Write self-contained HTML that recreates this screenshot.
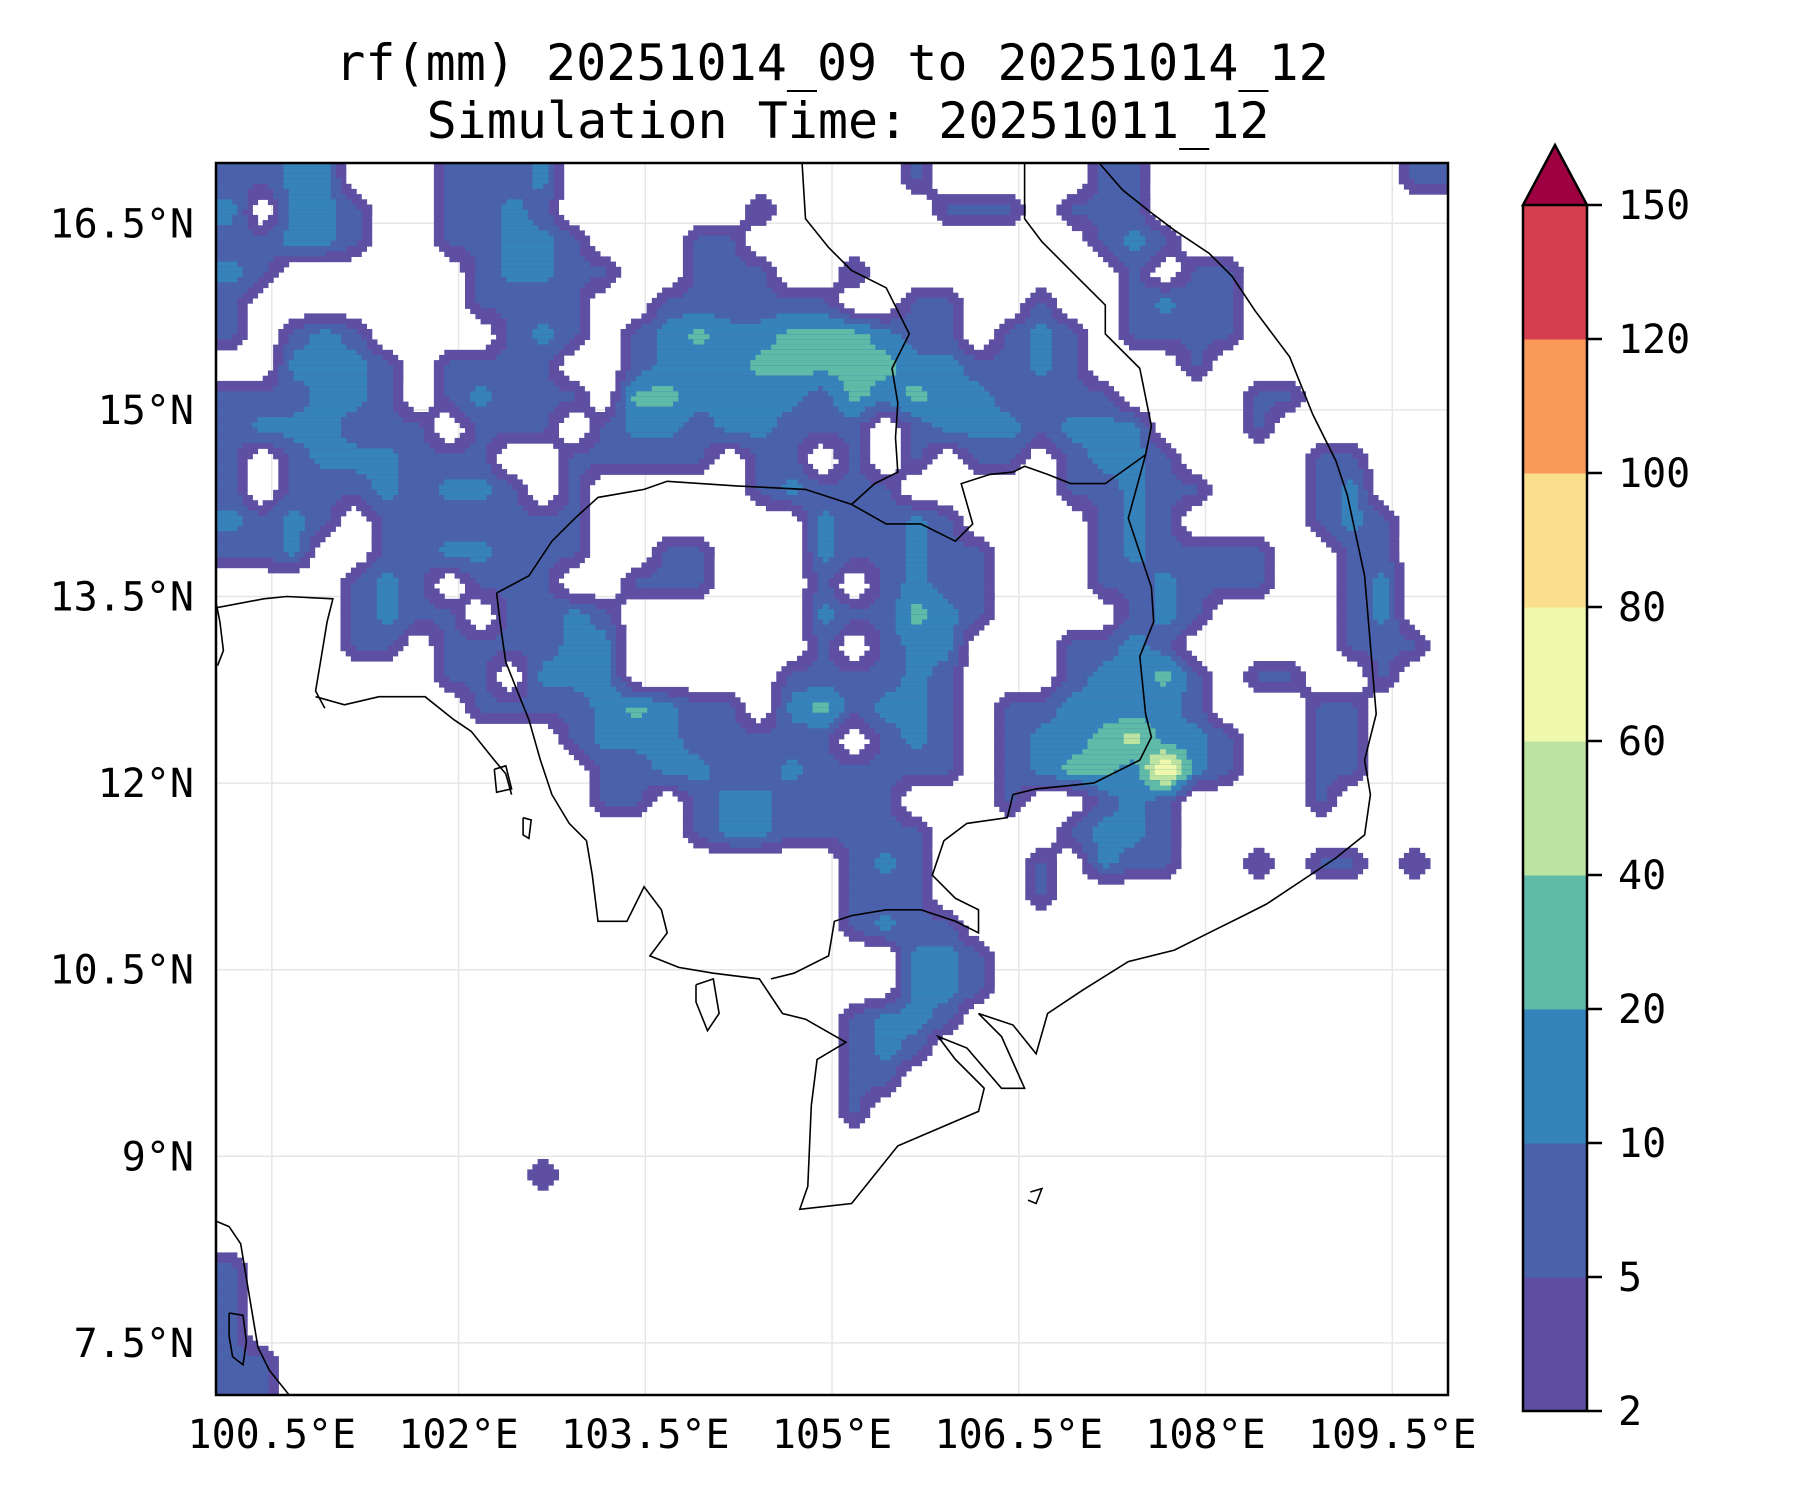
<!DOCTYPE html>
<html><head><meta charset="utf-8">
<style>
html,body{margin:0;padding:0;background:#fff;}
svg{display:block;}
text{font-family:"DejaVu Sans Mono","Liberation Mono",monospace;fill:#000;}
</style></head>
<body>
<svg id="fig" width="1800" height="1500" viewBox="0 0 1800 1500" xmlns="http://www.w3.org/2000/svg">
  <rect width="1800" height="1500" fill="#fff"/>
  <text x="832" y="80" font-size="50" text-anchor="middle">rf(mm) 20251014_09 to 20251014_12</text>
  <text x="848" y="138" font-size="50" text-anchor="middle">Simulation Time: 20251011_12</text>
  <defs><clipPath id="mapclip"><rect x="216" y="163" width="1232" height="1232"/></clipPath></defs>
  <g id="grid"></g>
  <g id="rain" clip-path="url(#mapclip)"></g>
  <g id="coast" clip-path="url(#mapclip)" fill="none" stroke="#000" stroke-width="1.6"></g>
  <rect x="216" y="163" width="1232" height="1232" fill="none" stroke="#000" stroke-width="2.5"/>
  <g id="xlabels"></g>
  <g id="ylabels"></g>
  <g id="cbar"></g>
</svg>
<script>
const lonTicks=[100.5,102,103.5,105,106.5,108,109.5];
const lonTickLabels=["100.5°E","102°E","103.5°E","105°E","106.5°E","108°E","109.5°E"];
const latTicks=[16.5,15,13.5,12,10.5,9,7.5];
const latTickLabels=["16.5°N","15°N","13.5°N","12°N","10.5°N","9°N","7.5°N"];
const levelBounds=[2,5,10,20,40,60,80,100,120,150];
const levelColors=["#5e4fa2","#4a61ab","#3682ba","#5fbaa8","#bce4a0","#f0f8ae","#fbdf8d","#f99a58","#d53e4f"];
const overColor="#9e0142";
const gridLon0=100.05, gridLat0=16.98, cellDeg=0.25;
const rainRows=[
"2233000222300000000000200000220000000022",
"3033200223200000020000022202220000000000",
"2233200223320002200000000000232000000000",
"3200000023322002220020000000020220000000",
"2000000022220022222200220020023220000000",
"2023200002320234334443220232022220000000",
"0033320222200233344444332232000200000000",
"2223320232220443333243433222200002200000",
"2333222022202332332220233323330002000000",
"2023332220022222022020202202332000022000",
"2022232332020000023222000002232200023000",
"3232022222220000000322320000232000023200",
"2230022332220022000322322000232222002200",
"0000232022200222000202322000223222002300",
"0000232202232000000322432000023200002300",
"0000220222233000000202330002232000002220",
"0000000220333000002222320002334202200200",
"0000000022223432203423320223333200022000",
"0000000000023332222202320233453320022000",
"0000000000002233223222220234437320022000",
"0000000000002202332222000200232000020000",
"0000000000000002332222200002332000000000",
"0000000000000000000023200020322002022020",
"0000000000000000000022200020000000000000",
"0000000000000000000023220000000000000000",
"0000000000000000000000332000000000000000",
"0000000000000000000000332000000000000000",
"0000000000000000000023320000000000000000",
"0000000000000000000023200000000000000000",
"0000000000000000000022000000000000000000",
"0000000000000000000020000000000000000000",
"0000000000000000000000000000000000000000",
"0000000000200000000000000000000000000000",
"0000000000000000000000000000000000000000",
"0000000000000000000000000000000000000000",
"2000000000000000000000000000000000000000",
"2000000000000000000000000000000000000000",
"2000000000000000000000000000000000000000",
"2200000000000000000000000000000000000000",
"2200000000000000000000000000000000000000"
];
const coastA=[[188,1060],[200,1065],[210,1080],[215,1110],[220,1140],[225,1170],[235,1190],[255,1215]];
const coastB=[[200,1140],[212,1142],[215,1165],[212,1185],[203,1178],[200,1160],[200,1140]];
const coastC=[[188,520],[192,540],[195,565],[190,578]];
const borderTC=[[188,528],[230,520],[250,518],[290,520],[285,540],[280,570],[275,600],[283,615]];
const coastThai=[[275,605],[300,612],[330,605],[370,605],[395,625],[410,635],[430,660],[440,672],[445,690]];
const borderKH_W=[[432,515],[460,500],[480,470],[500,450],[520,432],[560,425],[580,418],[640,422],[700,425],[740,438]];
const borderKH_TH=[[432,515],[435,540],[440,575],[450,600],[460,625],[470,660],[480,690],[495,715],[510,730]];
const mekongLaTh=[[740,438],[760,420],[780,410],[778,380],[780,350],[775,320],[790,290],[770,250],[740,235],[720,215],[700,190],[697,142]];
const borderKH_LA=[[740,438],[770,455],[800,455],[830,470],[845,455],[835,420],[860,412],[880,410],[890,405],[910,412],[930,420],[960,420],[995,395]];
const borderLA_VN=[[890,142],[890,190],[905,210],[935,240],[960,265],[960,290],[990,320],[1000,370],[995,395]];
const borderKH_VN=[[995,395],[980,450],[990,480],[1000,510],[1002,540],[990,570],[995,620],[1000,640],[990,660],[950,680],[900,685],[880,690],[875,710],[840,715],[820,730],[810,760],[830,780],[850,790],[850,810],[830,800],[800,790],[770,790],[740,795],[725,800],[720,830],[690,845],[670,850]];
const coastMain=[[510,730],[515,760],[520,800],[545,800],[560,770],[575,790],[580,810],[565,830],[590,840],[620,845],[660,850],[680,880],[700,885],[735,905],[710,920],[705,960],[702,1030],[695,1050],[740,1045],[780,995],[850,965],[855,945],[830,920],[815,900],[840,910],[870,945],[890,945],[870,900],[850,880],[880,890],[900,915],[910,880],[940,860],[980,835],[1020,825],[1050,810],[1080,795],[1100,785],[1130,765],[1160,745],[1185,725],[1190,690],[1185,660],[1195,620],[1190,560],[1185,500],[1170,430],[1160,400],[1140,360],[1120,310],[1090,270],[1070,240],[1050,220],[1020,200],[1000,185],[975,165],[955,142]];
const islands=[[[430,668],[440,665],[445,685],[432,688],[430,668]],[[605,855],[620,850],[625,880],[615,895],[605,870],[605,855]],[[895,1035],[905,1032],[900,1045],[893,1042]],[[455,710],[462,712],[460,728],[455,725],[455,710]]];

const NS="http://www.w3.org/2000/svg";
const X0=216,X1=1448,Y0=163,Y1=1395;
function xOf(lon){return 271.8+(lon-100.5)*124.5;}
function yOf(lat){return 223.3+(16.5-lat)*124.4;}
function lonOf(x){return 100.5+(x-271.8)/124.5;}
function latOf(y){return 16.5-(y-223.3)/124.4;}
function dLon(xd){return 100.5+(xd-237)/108;}
function dLat(yd){return 16.5-(yd-194)/108;}
function mk(tag,attrs,parent){const e=document.createElementNS(NS,tag);for(const k in attrs)e.setAttribute(k,attrs[k]);parent.appendChild(e);return e;}

const gg=document.getElementById('grid');
lonTicks.forEach(function(lon){
  const l=mk('line',{x1:xOf(lon),x2:xOf(lon),y1:Y0,y2:Y1,stroke:'#e6e6e6','stroke-width':1.5},gg);
  
  
});
latTicks.forEach(function(lat){
  const l=mk('line',{x1:X0,x2:X1,y1:yOf(lat),y2:yOf(lat),stroke:'#e6e6e6','stroke-width':1.5},gg);
  
  
});

const vals=rainRows.map(function(s){return s.split('').map(Number);});
const NR=vals.length, NC=vals[0].length;
function cellVal(r,c){r=Math.max(0,Math.min(NR-1,r));c=Math.max(0,Math.min(NC-1,c));return vals[r][c];}
function interp(lon,lat){
  const u=(lon-gridLon0)/cellDeg-0.5, v=(gridLat0-lat)/cellDeg-0.5;
  const c0=Math.floor(u), r0=Math.floor(v), fu=u-c0, fv=v-r0;
  return cellVal(r0,c0)*(1-fu)*(1-fv)+cellVal(r0,c0+1)*fu*(1-fv)+cellVal(r0+1,c0)*(1-fu)*fv+cellVal(r0+1,c0+1)*fu*fv;
}
function classOf(v){
  if(v<0.95)return 0;
  if(v<1.75)return 1;
  let k=2;
  while(k<9&&v>=k+1-0.4)k++;
  return k;
}
const rainG=document.getElementById('rain');
const stepPx=cellDeg*124.5/6;
for(let y=Y0;y<Y1;y+=stepPx){
  const cls=[];
  const xs=[];
  for(let x=X0;x<X1;x+=stepPx){
    cls.push(classOf(interp(lonOf(x+stepPx/2),latOf(y+stepPx/2))));
    xs.push(x);
  }
  for(let k=1;k<=9;k++){
    let start=-1;
    for(let i=0;i<=cls.length;i++){
      const on=i<cls.length&&cls[i]>=k;
      if(on&&start<0)start=i;
      if(!on&&start>=0){
        const r=mk('rect',{x:xs[start].toFixed(1),y:y.toFixed(1),width:((i-start)*stepPx+0.6).toFixed(1),height:(stepPx+0.6).toFixed(1),fill:levelColors[k-1]},rainG);
        
        
        start=-1;
      }
    }
  }
}

const cg=document.getElementById('coast');
function poly(pts,name){
  const d=pts.map(function(p){return xOf(dLon(p[0])).toFixed(1)+','+yOf(dLat(p[1])).toFixed(1);}).join(' ');
  const p=mk('polyline',{points:d},cg);
  
  
}
poly(coastA,'coastline');poly(coastB,'coastline');poly(coastC,'coastline');
poly(borderTC,'border-line');poly(coastThai,'coastline');poly(borderKH_W,'border-line');
poly(borderKH_TH,'border-line');poly(mekongLaTh,'border-line');poly(borderKH_LA,'border-line');
poly(borderLA_VN,'border-line');poly(borderKH_VN,'border-line');poly(coastMain,'coastline');
islands.forEach(function(i){poly(i,'island-outline');});

const xl=document.getElementById('xlabels');
lonTicks.forEach(function(lon,i){
  const t=mk('text',{x:xOf(lon),y:1448,'font-size':40,'text-anchor':'middle'},xl);
  t.textContent=lonTickLabels[i];
  
  
});
const yl=document.getElementById('ylabels');
latTicks.forEach(function(lat,i){
  const t=mk('text',{x:194,y:yOf(lat)+14,'font-size':40,'text-anchor':'end'},yl);
  t.textContent=latTickLabels[i];
  
  
});

const cb=document.getElementById('cbar');
const CB0=1523,CB1=1587,CBbot=1411,seg=134;
function cbY(i){return CBbot-i*seg;}
for(let i=0;i<levelBounds.length-1;i++){
  const r=mk('rect',{x:CB0,y:cbY(i+1),width:CB1-CB0,height:seg+0.5,fill:levelColors[i]},cb);
  
  
}
const cbTop=cbY(levelBounds.length-1);
const tri=mk('polygon',{points:CB0+','+cbTop+' '+(CB0+CB1)/2+','+(cbTop-60)+' '+CB1+','+cbTop,fill:overColor,stroke:'#000','stroke-width':2.5},cb);


const fr=mk('polyline',{points:CB0+','+cbTop+' '+CB0+','+CBbot+' '+CB1+','+CBbot+' '+CB1+','+cbTop,fill:'none',stroke:'#000','stroke-width':2.5},cb);


levelBounds.forEach(function(v,i){
  const tk=mk('line',{x1:CB1,x2:CB1+15,y1:cbY(i),y2:cbY(i),stroke:'#000','stroke-width':2.5},cb);
  
  
  const t=mk('text',{x:1618,y:cbY(i)+14,'font-size':40},cb);
  t.textContent=String(v);
  
  
});
</script>
</body></html>
